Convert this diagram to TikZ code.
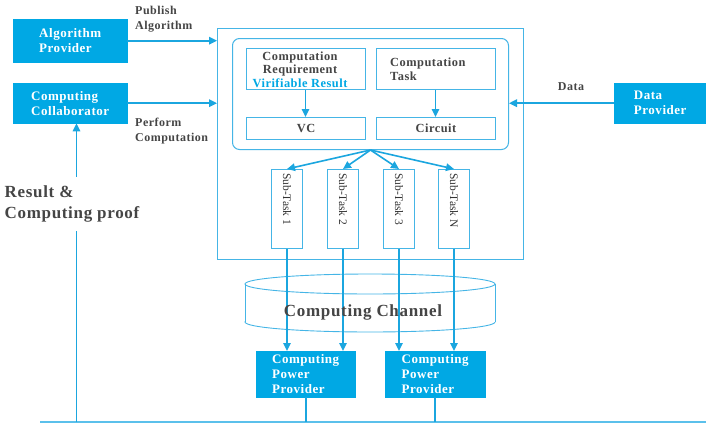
\documentclass[tikz,border=0pt]{standalone}
\usepackage{fontspec}
\setmainfont[LetterSpace=4]{Liberation Serif}
\newfontfamily\plainserif{Liberation Serif}
\usetikzlibrary{arrows.meta}
\definecolor{provblue}{HTML}{00A8E4}
\definecolor{linkblue}{HTML}{1BA6DF}
\definecolor{edgeblue}{HTML}{45B5E6}
\definecolor{railblue}{HTML}{5BC0EB}
\definecolor{inkgray}{HTML}{454545}

\begin{document}
\begin{tikzpicture}[x=1pt,y=-1pt,
  every node/.style={font=\bfseries\fontsize{13}{15}\selectfont, text=inkgray},
  actor/.style={fill=provblue, draw=provblue, text=white, align=left, inner sep=0pt, anchor=north west},
  panel/.style={draw=edgeblue, line width=1pt, fill=white, inner sep=0pt, anchor=north west},
  flow/.style={draw=linkblue, line width=1.6pt, -{Triangle[length=8pt,width=7.5pt]}},
  wire/.style={draw=linkblue, line width=1.6pt},
  tag/.style={align=left, inner sep=0pt, font=\bfseries\fontsize{12}{15}\selectfont},
  subtext/.style={rotate=-90, anchor=west, inner sep=0pt, font=\plainserif\fontsize{11.5}{13}\selectfont, text=black!80},
  bigtext/.style={align=left, inner sep=0pt, font=\bfseries\fontsize{17}{21}\selectfont}
]
\useasboundingbox (0,0) rectangle (706,423);

% outer actors
\node[actor, minimum width=114pt, minimum height=43pt] (ap) at (13,19) {Algorithm\\Provider};
\node[actor, minimum width=114pt, minimum height=40pt] (cc) at (13,83) {Computing\\Collaborator};
\node[actor, minimum width=92pt, minimum height=40pt] (dp) at (614,83) {Data\\Provider};

% main frame and rounded core
\node[panel, minimum width=306pt, minimum height=231pt] (big) at (217,28) {};
\node[panel, rounded corners=7pt, minimum width=276pt, minimum height=111pt] (core) at (232,38) {};

\node[panel, minimum width=119pt, minimum height=41pt] (cr) at (246,48) {};
\node[align=center, inner sep=0pt, font=\bfseries\fontsize{12.4}{13.5}\selectfont] (crtext) at (300,69.5)
  {Computation\\Requirement\\{\color{provblue}Virifiable Result}};
\node[panel, minimum width=119pt, minimum height=41pt] (ct) at (376,48) {};
\node[align=left, inner sep=0pt, anchor=west, font=\bfseries\fontsize{12.4}{14}\selectfont] (cttext) at (390,69) {Computation\\Task};
\node[panel, minimum width=119pt, minimum height=22pt, font=\bfseries\fontsize{12.4}{14}\selectfont] (vc) at (246,117) {VC};
\node[panel, minimum width=119pt, minimum height=22pt, font=\bfseries\fontsize{12.4}{14}\selectfont] (circ) at (376,117) {Circuit};

\draw[flow] ([xshift=-0.5pt]cr.south) ++(0,0) coordinate (crfoot) -- (crfoot |- vc.north);
\draw[flow] ([xshift=-0.5pt]ct.south) -- ([xshift=-0.5pt]circ.north);

% sub-tasks
\foreach \i/\x/\lab in {1/271/1, 2/327/2, 3/383/3, 4/438/N} {
  \node[panel, minimum width=31pt, minimum height=79pt] (st\i) at (\x,169) {};
  \node[subtext] (st\i text) at ([yshift=-4pt]st\i.north) {Sub-Task \lab};
  \draw[flow] (core.south) -- (st\i.north);
}

% actor links into the frame
\draw[flow] (ap.east) -- (ap.east -| big.west);
\draw[flow] (cc.east) -- (cc.east -| big.west);
\draw[flow] (dp.west) -- (dp.west -| core.east);
\node[tag, anchor=west] (pubtag) at (135,19.5) {Publish\\Algorithm};
\node[tag, anchor=west] (perftag) at (135,131) {Perform\\Computation};
\node[tag] (datatag) at (571,87) {Data};

% computing channel
\draw[edgeblue, line width=0.9pt] (370,322) ellipse [x radius=125, y radius=10];
\fill[white] (245,284) rectangle (495,322);
\draw[edgeblue, line width=0.9pt] (245,284) -- (245,322) (495,284) -- (495,322);
\draw[edgeblue, line width=0.9pt] (370,284) ellipse [x radius=125, y radius=10];

% power providers
\node[actor, minimum width=99pt, minimum height=46pt] (cpp1) at (256,351) {Computing\\Power\\Provider};
\node[actor, minimum width=100pt, minimum height=46pt] (cpp2) at (385,351) {Computing\\Power\\Provider};

\draw[flow] (st1.south) -- (st1.south |- cpp1.north);
\draw[flow] (st2.south) -- (st2.south |- cpp1.north);
\draw[flow] (st3.south) -- (st3.south |- cpp2.north);
\draw[flow] (st4.south) -- (st4.south |- cpp2.north);

\node[bigtext] (chan) at (363,312) {Computing Channel};

% result rail
\coordinate (railL) at (40,422);
\coordinate (railR) at (706,422);
\coordinate (riser) at (76.5,422);
\draw[railblue, line width=1.3pt] (railL) -- (railR);
\draw[wire] (cpp1.south) -- (cpp1.south |- railL);
\draw[wire] (cpp2.south) -- (cpp2.south |- railL);
\draw[flow] (riser) -- (riser |- cc.south);
\node[bigtext, fill=white, inner xsep=2pt, inner ysep=9pt] (result) at (72,204) {Result \&\\Computing proof};
\end{tikzpicture}
\end{document}
